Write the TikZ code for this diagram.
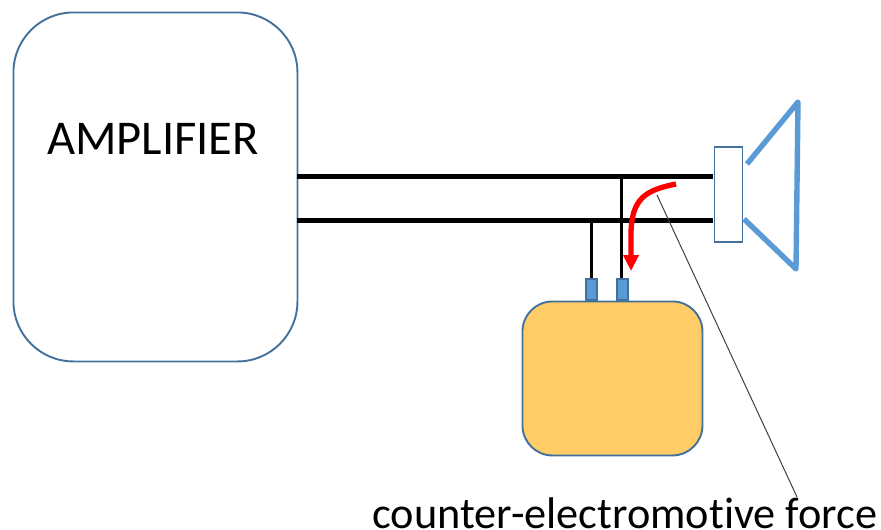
\documentclass[tikz,border=0pt]{standalone}
\usepackage{fontspec}
\setmainfont[Ligatures=NoCommon]{Carlito}
\usetikzlibrary{arrows.meta}
\definecolor{edgeblue}{HTML}{41719C}
\definecolor{coneblue}{HTML}{5B9BD5}
\definecolor{boxyellow}{HTML}{FFCC66}
\tikzset{
	box/.style={draw=edgeblue, line width=1.9pt, inner sep=0pt, anchor=north west},
	wire/.style={draw=black, line width=5.4pt},
	lead/.style={draw=black, line width=3pt},
	pin/.style={box, fill=coneblue, minimum width=11pt, minimum height=21pt},
	cone/.style={draw=coneblue, line width=5.4pt}
}
\begin{document}
\begin{tikzpicture}[x=1pt, y=-1pt]
	\useasboundingbox (0, 0) rectangle (881, 530);
	
	\coordinate (W1) at (297, 176.5);
	\coordinate (W2) at (713, 176.5);
	\coordinate (W3) at (297, 220.5);
	\coordinate (W4) at (713, 220.5);
	\coordinate (L1) at (591, 220);
	\coordinate (L2) at (621, 176);
	\coordinate (C1) at (747, 164);
	\coordinate (C2) at (798, 102);
	\coordinate (C3) at (796, 269);
	\coordinate (C4) at (744, 219);
	\coordinate (E1) at (676, 184);
	\coordinate (E2) at (631, 271);
	\coordinate (F1) at (657, 195);
	\coordinate (F2) at (797, 497);
	
	\node[box, rounded corners=60pt, minimum width=284pt, minimum height=349pt] (amp) at (12.5, 11.5) {};
	\node[font=\fontsize{48.5}{58}\selectfont] (amplabel) at (153, 139) {AMPLIFIER};
	\node[box, fill=boxyellow, rounded corners=30pt, minimum width=180pt, minimum height=154pt] (load) at (521.5, 300.5) {};
	\node[box, fill=white, minimum width=28pt, minimum height=95pt] (coil) at (713.5, 146) {};
	\node[pin] (pinA) at (585, 278) {};
	\node[pin] (pinB) at (616, 278) {};
	\node[font=\fontsize{44.3}{53}\selectfont, anchor=base, inner sep=0pt, text depth=0pt] (forcelabel) at (625, 528) {counter-electromotive force};
	
	\draw[wire] (W1) -- (W2);
	\draw[wire] (W3) -- (W4);
	\draw[lead] (L1) -- (L1 |- pinA.north);
	\draw[lead] (L2) -- (L2 |- pinB.north);
	
	\draw[cone, line join=round] (C1) -- (C2) -- (C3) -- (C4);
	
	\draw[draw=black!75, line width=1pt] (F1) -- (F2);
	\draw[red, line width=5.3pt, -{Triangle[length=16pt, width=15pt]}] (E1) .. controls (646, 190) and (631, 198) .. (631, 235) -- (E2);
\end{tikzpicture}
\end{document}
